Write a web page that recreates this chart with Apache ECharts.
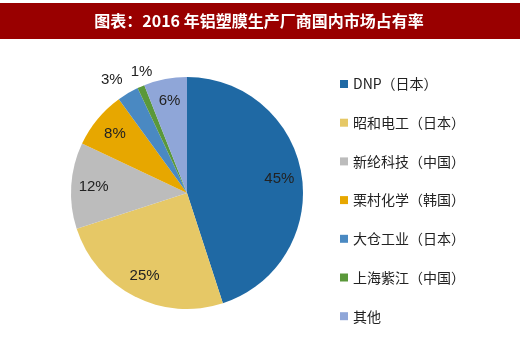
<!DOCTYPE html>
<html>
<head>
<meta charset="utf-8">
<script src="https://cdn.jsdelivr.net/npm/echarts@6/dist/echarts.min.js"></script>
<style>
  html, body { margin: 0; padding: 0; background: #fff; }
  #chart { width: 520px; height: 353px; }
</style>
</head>
<body>
<div id="chart"></div>
<script>
// 厂商与市场占有率
const titleText = '图表：2016 年铝塑膜生产厂商国内市场占有率';
const companies = ['DNP（日本）', '昭和电工（日本）', '新纶科技（中国）', '栗村化学（韩国）', '大仓工业（日本）', '上海紫江（中国）', '其他'];
const shares = [45, 25, 12, 8, 3, 1, 6];
const colors = ['#1f69a4', '#e6c866', '#bcbcbc', '#e7a700', '#4a89c2', '#5a983a', '#8fa6d8'];

const chart = echarts.init(document.getElementById('chart'));

const cx = 187, cy = 193, R = 116;
const smallLimit = 5; // 小扇区标签放在外面

const labelStyle = {
  formatter: '{c}%',
  fontFamily: 'Liberation Sans',
  fontSize: 15,
  color: '#222',
  overflow: 'none'
};

// 外面的小标签互相挨着，左右分开一点
const smallIdx = shares.map((v, i) => i).filter(i => shares[i] < smallLimit);
function spreadSmall(p) {
  const k = smallIdx.indexOf(p.dataIndex);
  if (k < 0) return {};
  return { dx: k === 0 ? -8 : 7 };
}

// 透明环：只负责放标签
function labelRing(radius, showFn, layoutFn) {
  return {
    type: 'pie',
    center: [cx, cy],
    radius: radius,
    startAngle: 90,
    clockwise: true,
    avoidLabelOverlap: false,
    minShowLabelAngle: 0,
    silent: true,
    labelLayout: layoutFn || { hideOverlap: false },
    data: companies.map((name, i) => ({
      name: name,
      value: shares[i],
      label: { show: showFn(shares[i]) }
    })),
    itemStyle: { color: 'rgba(0,0,0,0)' },
    label: Object.assign({ position: 'inside' }, labelStyle),
    labelLine: { show: false }
  };
}

chart.setOption({
  animation: false,
  graphic: [{
    type: 'rect',
    shape: { x: 0, y: 3, width: 520, height: 36 },
    style: { fill: '#990000' },
    z: 0
  }, {
    type: 'text',
    x: 259, y: 21,
    style: {
      text: titleText,
      fill: '#ffffff',
      font: 'bold 16px "Noto Sans CJK SC"',
      textAlign: 'center',
      textVerticalAlign: 'middle'
    },
    z: 1
  }],
  legend: {
    orient: 'vertical',
    left: 340,
    top: 77,
    padding: 0,
    itemWidth: 8,
    itemHeight: 8,
    itemGap: 24.7,
    icon: 'rect',
    selectedMode: false,
    data: companies,
    textStyle: {
      fontFamily: '"Noto Sans CJK SC"',
      fontSize: 14,
      lineHeight: 14,
      color: '#222'
    }
  },
  series: [{
    type: 'pie',
    center: [cx, cy],
    radius: [0, R],
    startAngle: 90,
    clockwise: true,
    silent: true,
    data: companies.map((name, i) => ({
      name: name,
      value: shares[i],
      itemStyle: { color: colors[i] }
    })),
    label: { show: false },
    labelLine: { show: false }
  },
  labelRing([65, R], v => v >= smallLimit),
  labelRing([R, 142], v => v < smallLimit, spreadSmall)
  ]
});
</script>
</body>
</html>
